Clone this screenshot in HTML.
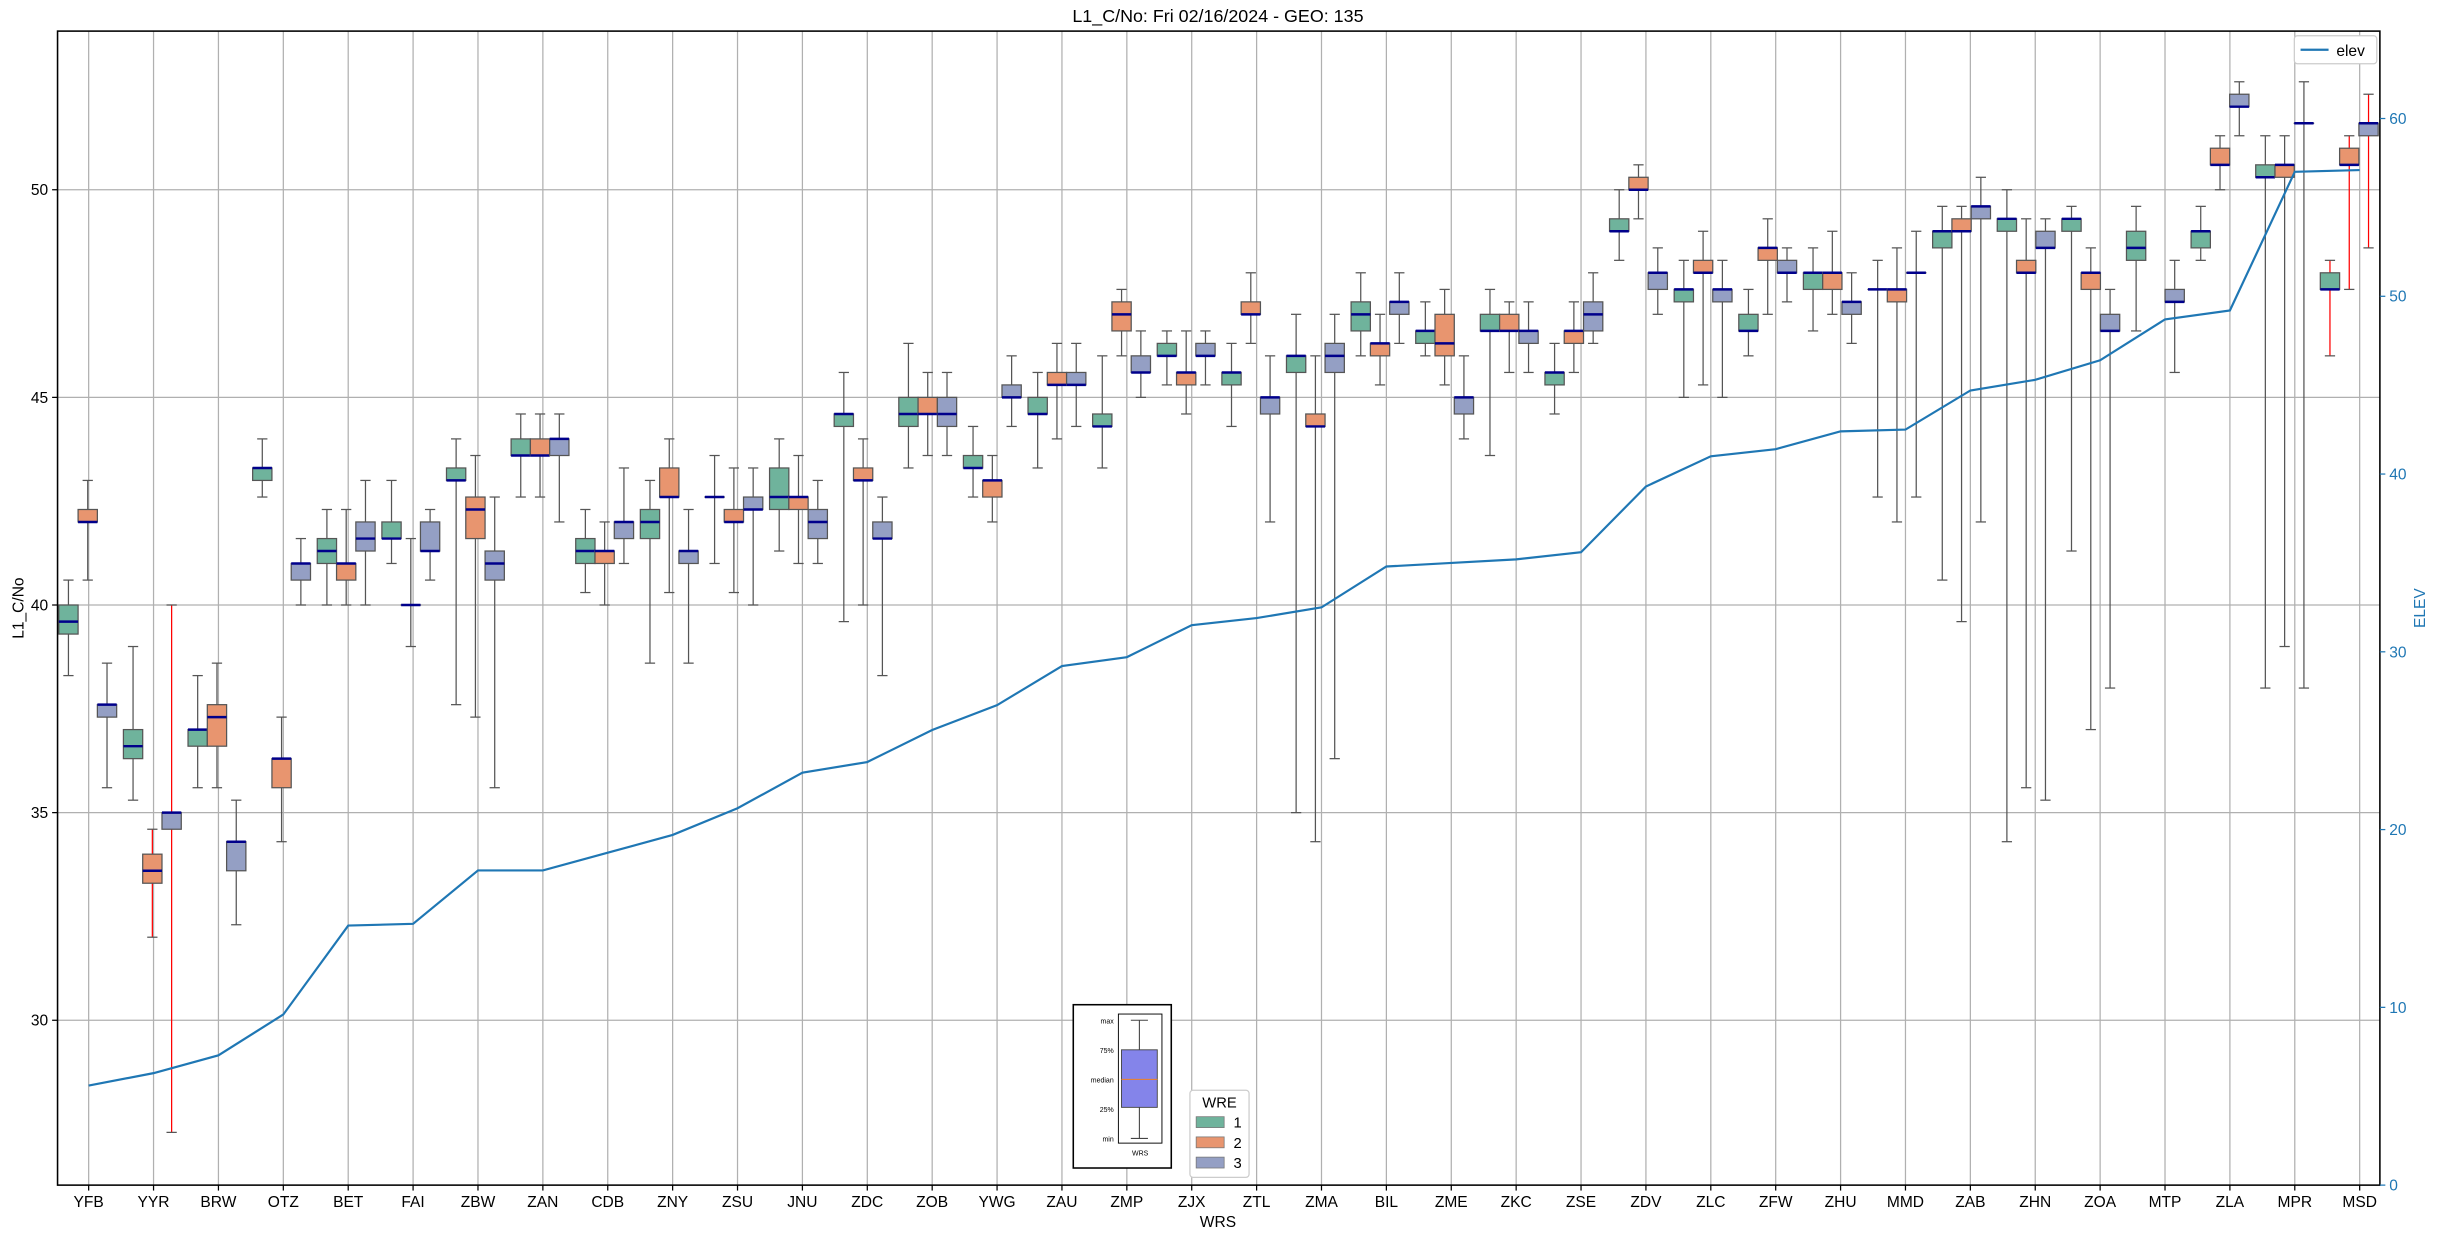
<!DOCTYPE html>
<html><head><meta charset="utf-8"><style>
html,body{margin:0;padding:0;background:#fff}
svg{display:block}
text{font-family:"Liberation Sans","DejaVu Sans",sans-serif;fill:#000}
</style></head><body>
<svg id="chart" width="2439" height="1238" viewBox="0 0 1568 796" preserveAspectRatio="none" xmlns="http://www.w3.org/2000/svg">
<rect x="0" y="0" width="1568" height="796" fill="#fff"/>
<g id="grid"></g>
<g id="boxes"></g>
<g id="elevline"></g>
<rect x="37" y="20" width="1493" height="742" fill="none" stroke="#000" stroke-width="1"/>
<g id="axes"></g>
<text x="783" y="14" font-size="11.5" text-anchor="middle">L1_C/No: Fri 02/16/2024 - GEO: 135</text>
<text x="783" y="789" font-size="10" text-anchor="middle">WRS</text>
<text x="15" y="391" font-size="10" text-anchor="middle" transform="rotate(-90 15 391)">L1_C/No</text>
<text x="1559" y="391" font-size="10" text-anchor="middle" fill="#1f77b4" style="fill:#1f77b4" transform="rotate(-90 1559 391)">ELEV</text>
<g>
<rect x="1475" y="23" width="53" height="18" rx="2" fill="#fff" stroke="#ccc" stroke-width="0.8"/>
<line x1="1479" y1="32" x2="1497" y2="32" stroke="#1f77b4" stroke-width="1.5"/>
<text x="1502" y="36" font-size="10">elev</text>
</g>
<g>
<rect x="690" y="646" width="63" height="105" fill="#fff" stroke="#000" stroke-width="1"/>
<rect x="719" y="652" width="28" height="83" fill="#fff" stroke="#000" stroke-width="0.6"/>
<line x1="732.5" y1="656" x2="732.5" y2="675" stroke="#444" stroke-width="0.7"/>
<line x1="732.5" y1="712" x2="732.5" y2="732" stroke="#444" stroke-width="0.7"/>
<line x1="727" y1="656" x2="738" y2="656" stroke="#444" stroke-width="0.7"/>
<line x1="727" y1="732" x2="738" y2="732" stroke="#444" stroke-width="0.7"/>
<rect x="721" y="675" width="23" height="37" fill="#8484ea" stroke="#444" stroke-width="0.6"/>
<line x1="721" y1="694" x2="744" y2="694" stroke="#f08020" stroke-width="0.6"/>
<g font-size="4.5" text-anchor="end">
<text x="716" y="658">max</text><text x="716" y="677">75%</text><text x="716" y="696">median</text><text x="716" y="715">25%</text><text x="716" y="734">min</text>
</g>
<text x="733" y="743" font-size="4.5" text-anchor="middle">WRS</text>
</g>
<g>
<rect x="765" y="701" width="38" height="56" rx="2" fill="#fff" stroke="#ccc" stroke-width="0.8"/>
<text x="784" y="712" font-size="9.5" text-anchor="middle">WRE</text>
<rect x="769" y="718" width="18" height="7" fill="#6fb39c" stroke="#777" stroke-width="0.5"/><text x="793" y="725" font-size="9.5">1</text>
<rect x="769" y="731" width="18" height="7" fill="#e8956f" stroke="#777" stroke-width="0.5"/><text x="793" y="738" font-size="9.5">2</text>
<rect x="769" y="744" width="18" height="7" fill="#949fc4" stroke="#777" stroke-width="0.5"/><text x="793" y="751" font-size="9.5">3</text>
</g>
</svg>
<script>
const categories = ["YFB","YYR","BRW","OTZ","BET","FAI","ZBW","ZAN","CDB","ZNY","ZSU","JNU","ZDC","ZOB","YWG","ZAU","ZMP","ZJX","ZTL","ZMA","BIL","ZME","ZKC","ZSE","ZDV","ZLC","ZFW","ZHU","MMD","ZAB","ZHN","ZOA","MTP","ZLA","MPR","MSD"];
const elevValues = [5.6,6.3,7.3,9.6,14.6,14.7,17.7,17.7,18.7,19.7,21.2,23.2,23.8,25.6,27.0,29.2,29.7,31.5,31.9,32.5,34.8,35.0,35.2,35.6,39.3,41.0,41.4,42.4,42.5,44.7,45.3,46.4,48.7,49.2,57.0,57.1];
// [whisker low, q1, median, q3, whisker high]
const wre1Stats = [[38.3,39.3,39.6,40.0,40.6],[35.3,36.3,36.6,37.0,39.0],[35.6,36.6,37.0,37.0,38.3],[42.6,43.0,43.3,43.3,44.0],[40.0,41.0,41.3,41.6,42.3],[41.0,41.6,41.6,42.0,43.0],[37.6,43.0,43.0,43.3,44.0],[42.6,43.6,43.6,44.0,44.6],[40.3,41.0,41.3,41.6,42.3],[38.6,41.6,42.0,42.3,43.0],[41.0,42.6,42.6,42.6,43.6],[41.3,42.3,42.6,43.3,44.0],[39.6,44.3,44.6,44.6,45.6],[43.3,44.3,44.6,45.0,46.3],[42.6,43.3,43.3,43.6,44.3],[43.3,44.6,44.6,45.0,45.6],[43.3,44.3,44.3,44.6,46.0],[45.3,46.0,46.0,46.3,46.6],[44.3,45.3,45.6,45.6,46.3],[35.0,45.6,46.0,46.0,47.0],[46.0,46.6,47.0,47.3,48.0],[46.0,46.3,46.6,46.6,47.3],[43.6,46.6,46.6,47.0,47.6],[44.6,45.3,45.6,45.6,46.3],[48.3,49.0,49.0,49.3,50.0],[45.0,47.3,47.6,47.6,48.3],[46.0,46.6,46.6,47.0,47.6],[46.6,47.6,48.0,48.0,48.6],[42.6,47.6,47.6,47.6,48.3],[40.6,48.6,49.0,49.0,49.6],[34.3,49.0,49.3,49.3,50.0],[41.3,49.0,49.3,49.3,49.6],[46.6,48.3,48.6,49.0,49.6],[48.3,48.6,49.0,49.0,49.6],[38.0,50.3,50.3,50.6,51.3],[46.0,47.6,47.6,48.0,48.3]];
const wre2Stats = [[40.6,42.0,42.0,42.3,43.0],[32.0,33.3,33.6,34.0,34.6],[35.6,36.6,37.3,37.6,38.6],[34.3,35.6,36.3,36.3,37.3],[40.0,40.6,41.0,41.0,42.3],[39.0,40.0,40.0,40.0,41.6],[37.3,41.6,42.3,42.6,43.6],[42.6,43.6,43.6,44.0,44.6],[40.0,41.0,41.3,41.3,42.0],[40.3,42.6,42.6,43.3,44.0],[40.3,42.0,42.0,42.3,43.3],[41.0,42.3,42.6,42.6,43.6],[40.0,43.0,43.0,43.3,44.0],[43.6,44.6,44.6,45.0,45.6],[42.0,42.6,43.0,43.0,43.6],[44.0,45.3,45.3,45.6,46.3],[46.0,46.6,47.0,47.3,47.6],[44.6,45.3,45.6,45.6,46.6],[46.3,47.0,47.0,47.3,48.0],[34.3,44.3,44.3,44.6,46.0],[45.3,46.0,46.3,46.3,47.0],[45.3,46.0,46.3,47.0,47.6],[45.6,46.6,46.6,47.0,47.3],[45.6,46.3,46.6,46.6,47.3],[49.3,50.0,50.0,50.3,50.6],[45.3,48.0,48.0,48.3,49.0],[47.0,48.3,48.6,48.6,49.3],[47.0,47.6,48.0,48.0,49.0],[42.0,47.3,47.6,47.6,48.6],[39.6,49.0,49.0,49.3,49.6],[35.6,48.0,48.0,48.3,49.3],[37.0,47.6,48.0,48.0,48.6],null,[50.0,50.6,50.6,51.0,51.3],[39.0,50.3,50.6,50.6,51.3],[47.6,50.6,50.6,51.0,51.3]];
const wre3Stats = [[35.6,37.3,37.6,37.6,38.6],[27.3,34.6,35.0,35.0,40.0],[32.3,33.6,34.3,34.3,35.3],[40.0,40.6,41.0,41.0,41.6],[40.0,41.3,41.6,42.0,43.0],[40.6,41.3,41.3,42.0,42.3],[35.6,40.6,41.0,41.3,42.6],[42.0,43.6,44.0,44.0,44.6],[41.0,41.6,42.0,42.0,43.3],[38.6,41.0,41.3,41.3,42.3],[40.0,42.3,42.3,42.6,43.3],[41.0,41.6,42.0,42.3,43.0],[38.3,41.6,41.6,42.0,42.6],[43.6,44.3,44.6,45.0,45.6],[44.3,45.0,45.0,45.3,46.0],[44.3,45.3,45.3,45.6,46.3],[45.0,45.6,45.6,46.0,46.6],[45.3,46.0,46.0,46.3,46.6],[42.0,44.6,45.0,45.0,46.0],[36.3,45.6,46.0,46.3,47.0],[46.3,47.0,47.3,47.3,48.0],[44.0,44.6,45.0,45.0,46.0],[45.6,46.3,46.6,46.6,47.3],[46.3,46.6,47.0,47.3,48.0],[47.0,47.6,48.0,48.0,48.6],[45.0,47.3,47.6,47.6,48.3],[47.3,48.0,48.0,48.3,48.6],[46.3,47.0,47.3,47.3,48.0],[42.6,48.0,48.0,48.0,49.0],[42.0,49.3,49.6,49.6,50.3],[35.3,48.6,48.6,49.0,49.3],[38.0,46.6,46.6,47.0,47.6],[45.6,47.3,47.3,47.6,48.3],[51.3,52.0,52.0,52.3,52.6],[38.0,51.6,51.6,51.6,52.6],[48.6,51.3,51.6,51.6,52.3]];
const redWhiskerCats = ["YYR","MSD"];
const leftTicks = [30,35,40,45,50];
const rightTicks = [0,10,20,30,40,50,60];

const NS="http://www.w3.org/2000/svg";
const PL=37,PR=1530,PT=20,PB=762;
const X0=57,DX=(1517-57)/35;
function xPos(i){return X0+i*DX;}
const BX0=44,BDX=41.54;
function boxPos(i){return BX0+i*BDX;}
function yL(v){return 656-(v-30)*26.7;}
function yR(e){return 762-e*11.43;}
function mk(tag,attrs,parent){const el=document.createElementNS(NS,tag);for(const k in attrs)el.setAttribute(k,attrs[k]);parent.appendChild(el);return el;}

const grid=document.getElementById('grid'),axes=document.getElementById('axes'),boxes=document.getElementById('boxes'),elevG=document.getElementById('elevline');
categories.forEach((c,i)=>{
  const x=xPos(i);
  const gl=mk('line',{x1:x,y1:PT,x2:x,y2:PB,stroke:'#b0b0b0','stroke-width':0.8},grid);
  
  
  const tk=mk('line',{x1:x,y1:PB,x2:x,y2:PB+3.5,stroke:'#000','stroke-width':0.8},axes);
  
  
  const t=mk('text',{x:x,y:PB+14,'font-size':10,'text-anchor':'middle'},axes);
  t.textContent=c;
  
  
});
leftTicks.forEach(v=>{
  const y=yL(v);
  const gl=mk('line',{x1:PL,y1:y,x2:PR,y2:y,stroke:'#b0b0b0','stroke-width':0.8},grid);
  
  
  const tk=mk('line',{x1:PL-3.5,y1:y,x2:PL,y2:y,stroke:'#000','stroke-width':0.8},axes);
  
  
  const t=mk('text',{x:PL-6,y:y+3.5,'font-size':10,'text-anchor':'end'},axes);
  t.textContent=v;
  
  
});
rightTicks.forEach(v=>{
  const y=yR(v);
  const tk=mk('line',{x1:PR,y1:y,x2:PR+3.5,y2:y,stroke:'#1f77b4','stroke-width':0.8},axes);
  
  
  const t=mk('text',{x:PR+6,y:y+3.5,'font-size':10,'text-anchor':'start',style:'fill:#1f77b4'},axes);
  t.textContent=v;
  
  
});

const series=[{d:wre1Stats,off:0,fill:'#6fb39c'},{d:wre2Stats,off:12.4,fill:'#e8956f'},{d:wre3Stats,off:24.8,fill:'#949fc4'}];
const BW=12.4;
series.forEach((s,si)=>{
  s.d.forEach((st,i)=>{
    if(!st)return;
    const cx=boxPos(i)+s.off;
    const g=mk('g',{},boxes);
    
    
    const wc=redWhiskerCats.includes(categories[i])&&(si>0||categories[i]==='MSD')?'#ff0000':'#555';
    mk('line',{x1:cx,y1:yL(st[0]),x2:cx,y2:yL(st[1]),stroke:wc,'stroke-width':0.8},g);
    mk('line',{x1:cx,y1:yL(st[3]),x2:cx,y2:yL(st[4]),stroke:wc,'stroke-width':0.8},g);
    mk('line',{x1:cx-3.3,y1:yL(st[0]),x2:cx+3.3,y2:yL(st[0]),stroke:'#555','stroke-width':0.8},g);
    mk('line',{x1:cx-3.3,y1:yL(st[4]),x2:cx+3.3,y2:yL(st[4]),stroke:'#555','stroke-width':0.8},g);
    const h=Math.max(yL(st[1])-yL(st[3]),0.01);
    mk('rect',{x:cx-BW/2,y:yL(st[3]),width:BW,height:h,fill:s.fill,stroke:'#555','stroke-width':0.8},g);
    mk('line',{x1:cx-BW/2,y1:yL(st[2]),x2:cx+BW/2,y2:yL(st[2]),stroke:'#00008b','stroke-width':1.6},g);
  });
});

const pts=elevValues.map((e,i)=>xPos(i)+','+yR(e)).join(' ');
const pl=mk('polyline',{points:pts,fill:'none',stroke:'#1f77b4','stroke-width':1.4},elevG);


</script>
</body></html>
